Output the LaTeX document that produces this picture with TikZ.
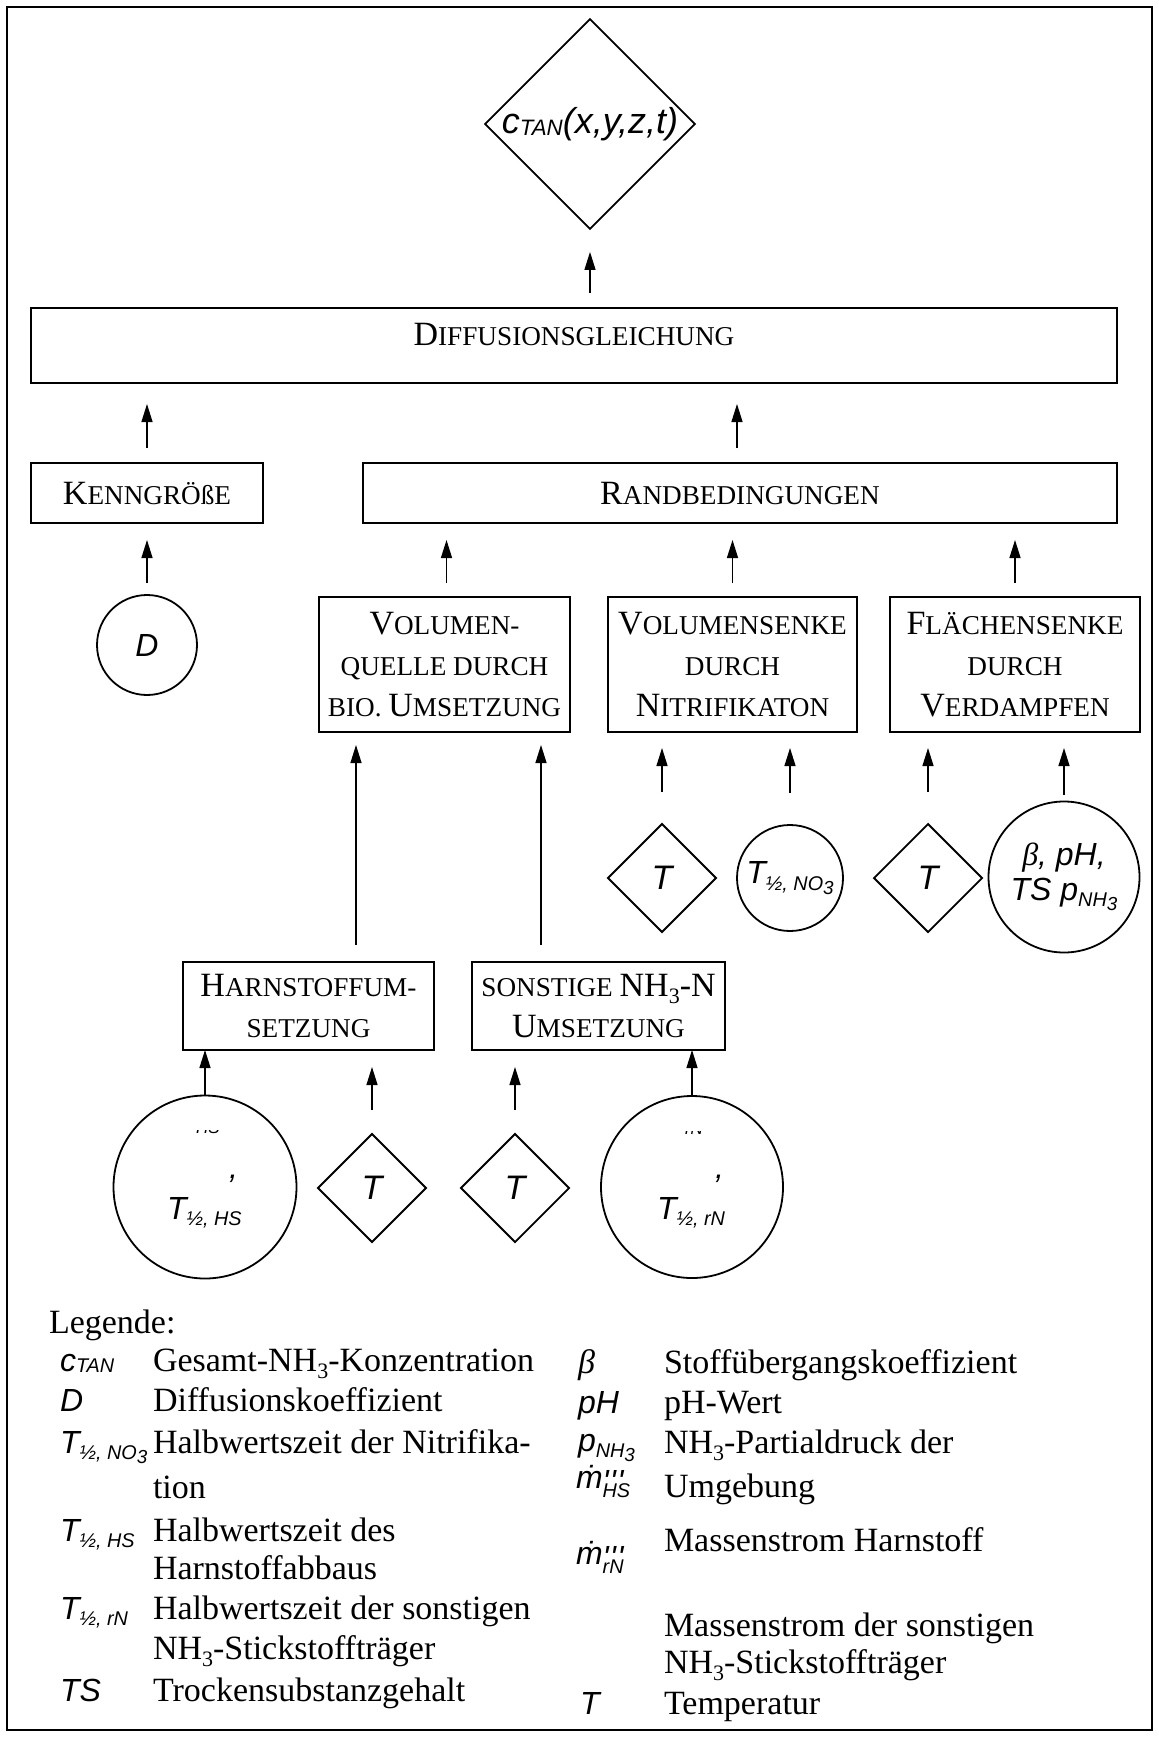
\documentclass[tikz,border=0pt]{standalone}
\usepackage{fontspec}
\usepackage{graphicx}
\setmainfont{Liberation Serif}
\newfontfamily\symfont{Liberation Sans}[Ligatures=TeXOff]
\usetikzlibrary{shapes.geometric,arrows.meta,calc}

% small capitals built from a reduced upper-case size
\newcommand\smc[1]{{\fontsize{13.6}{16}\selectfont #1}}
% lowered, reduced index
\newcommand\lowr[2][0.62]{\raisebox{-0.2em}{\scalebox{#1}{#2}}}
% index in serif running text
\newcommand\tsub[1]{\raisebox{-0.22em}{\fontsize{11}{11}\selectfont #1}}
% italic sans for symbols
\newcommand\sy{\symfont\itshape}
% mass flow symbol with triple prime and index
\newcommand\mflow[1]{ṁ\rlap{\raisebox{-2.4pt}{'\kern0.6pt'\kern0.6pt'}}\raisebox{-0.3em}{\scalebox{0.62}{#1}}}

\begin{document}
\begin{tikzpicture}[x=0.5pt,y=-0.5pt,
  every node/.style={inner sep=0pt, outer sep=0pt},
  box/.style={draw, line width=0.9pt, rectangle, align=center,
    font=\fontsize{17}{20.5}\selectfont},
  circ/.style={draw, line width=0.9pt, circle, align=center},
  dia/.style={draw, line width=0.9pt, diamond, aspect=1},
  arr/.style={line width=0.65pt, -{Triangle[length=9pt,width=5.5pt]}},
  symb/.style={font=\fontsize{16}{19}\selectfont\sy},
  lsym/.style={font=\fontsize{16}{19}\selectfont\sy, anchor=base west},
  ltxt/.style={font=\fontsize{17}{21}\selectfont, anchor=base west},
]
\useasboundingbox (0,0) rectangle (1159,1738);
\draw[line width=0.9pt] (7,7) rectangle (1152,1730);

% ---------- result ----------
\node[dia, minimum width=103pt, minimum height=102pt] (ctan) at (590,124)
  {\fontsize{18}{20}\selectfont\sy c\raisebox{-0.05em}{\scalebox{0.62}{TAN}}(x,y,z,t)};

% ---------- equation and its inputs ----------
\node[box, minimum width=543pt, minimum height=37.5pt] (diff) at (574,345.5) {};
\node[font=\fontsize{17}{20}\selectfont] (difft) at (574,335)
  {D\smc{IFFUSIONSGLEICHUNG}};

\node[box, minimum width=116pt, minimum height=30pt] (kenn) at (147,493) {K\smc{ENNGRÖßE}};
\node[box, minimum width=377pt, minimum height=30pt] (rand) at (740,493) {R\smc{ANDBEDINGUNGEN}};

\node[circ, minimum size=50pt, symb] (D) at (147,645) {D};

\node[box, minimum width=125.5pt, minimum height=67.5pt] (vq) at (444.5,664.5)
  {V\smc{OLUMEN-}\\\smc{QUELLE DURCH}\\\smc{BIO. }U\smc{MSETZUNG}};
\node[box, minimum width=124.5pt, minimum height=67.5pt] (vs) at (732.5,664.5)
  {V\smc{OLUMENSENKE}\\\smc{DURCH}\\N\smc{ITRIFIKATON}};
\node[box, minimum width=125pt, minimum height=67.5pt] (fs) at (1015,664.5)
  {F\smc{LÄCHENSENKE}\\\smc{DURCH}\\V\smc{ERDAMPFEN}};

% ---------- sink parameters ----------
\node[dia, minimum width=54pt, minimum height=54pt, font=\fontsize{17}{19}\selectfont\sy] (T1) at (662,878) {T};
\node[circ, minimum size=53pt, symb] (tno) at (790,878) {T\lowr{½, NO\lowr[0.95]{3}}};
\node[dia, minimum width=54pt, minimum height=54pt, font=\fontsize{17}{19}\selectfont\sy] (T2) at (928,878) {T};
\node[circ, minimum size=75.5pt, font=\fontsize{16}{17.5}\selectfont] (bp) at (1064,877)
  {{\itshape β}{\sy, pH,}\\{\sy TS p\lowr{NH\lowr[0.95]{3}}}};

% ---------- conversion boxes ----------
\node[box, minimum width=125.5pt, minimum height=44pt] (hs) at (308.5,1006)
  {H\smc{ARNSTOFFUM-}\\\smc{SETZUNG}};
\node[box, minimum width=126.5pt, minimum height=44pt] (rn) at (598.5,1006)
  {\smc{SONSTIGE }NH\tsub{3}-N\\U\smc{MSETZUNG}};

% ---------- source parameters ----------
\node[circ, minimum size=91.5pt] (chs) at (205,1187) {};
\node[dia, minimum width=54pt, minimum height=54pt, font=\fontsize{17}{19}\selectfont\sy] (T3) at (372,1188) {T};
\node[dia, minimum width=54pt, minimum height=54pt, font=\fontsize{17}{19}\selectfont\sy] (T4) at (515,1188) {T};
\node[circ, minimum size=91pt] (crn) at (692,1187) {};

\begin{scope}
  \clip (185,1130) rectangle (230,1135);
  \node[anchor=base west, font=\fontsize{8.5}{9}\selectfont\sy] (hsfrag) at (196,1133.5) {HS};
\end{scope}
\begin{scope}
  \clip (675,1131.5) rectangle (715,1136);
  \node[anchor=base west, font=\fontsize{8.5}{9}\selectfont\sy] (rnfrag) at (685,1134.5) {rN};
\end{scope}
\node[anchor=base west, symb] (hscomma) at (229,1178) {,};
\node[anchor=base west, symb] (hst) at (167,1219) {T\lowr{½, HS}};
\node[anchor=base west, symb] (rncomma) at (715,1178) {,};
\node[anchor=base west, symb] (rnt) at (657,1219) {T\lowr{½, rN}};

% ---------- connectors ----------
\draw[arr] ($(ctan.south |- diff.north)+(0,-15)$) -- ($(ctan.south)+(0,23)$);
\draw[arr] ($(kenn.north)+(0,-15)$) -- ($(kenn.north |- diff.south)+(0,21)$);
\draw[arr] ($(rand.north)+(-3,-15)$) -- ($(rand.north |- diff.south)+(-3,21)$);

\draw[arr] ($(D.north)+(0,-12)$) -- ($(kenn.south)+(0,17)$);
\draw[arr] ($(vq.north)+(2,-14)$) -- ($(vq.north |- rand.south)+(2,17)$);
\draw[arr] ($(vs.north)+(0,-14)$) -- ($(vs.north |- rand.south)+(0,17)$);
\draw[arr] ($(fs.north)+(0,-14)$) -- ($(fs.north |- rand.south)+(0,17)$);

\draw[arr] ($(T1.north)+(0,-32)$) -- ($(T1.north |- vs.south)+(0,16)$);
\draw[arr] ($(tno.north)+(0,-32)$) -- ($(tno.north |- vs.south)+(0,16)$);
\draw[arr] ($(T2.north)+(0,-32)$) -- ($(T2.north |- fs.south)+(0,16)$);
\draw[arr] ($(bp.north)+(0,-7)$) -- ($(bp.north |- fs.south)+(0,16)$);

\coordinate (hsup) at ($(hs.north)+(47.5,-17)$);
\coordinate (rnup) at ($(rn.north)+(-57.5,-17)$);
\draw[arr] (hsup) -- ($(hsup |- vq.south)+(0,13)$);
\draw[arr] (rnup) -- ($(rnup |- vq.south)+(0,13)$);

\draw[arr] (chs.north) -- (chs.north |- hs.south);
\draw[arr] ($(T3.north)+(0,-24)$) -- ($(T3.north |- hs.south)+(0,17)$);
\draw[arr] ($(T4.north)+(0,-24)$) -- ($(T4.north |- rn.south)+(0,17)$);
\draw[arr] (crn.north) -- (crn.north |- rn.south);

% ---------- legend ----------
\node[ltxt] (leg) at (49,1333) {Legende:};

\node[lsym] (l1s) at (60,1371) {c\raisebox{-0.05em}{\scalebox{0.62}{TAN}}};
\node[ltxt] (l1t) at (153,1371) {Gesamt-NH\tsub{3}-Konzentration};
\node[lsym] (l2s) at (60,1411) {D};
\node[ltxt] (l2t) at (153,1411) {Diffusionskoeffizient};
\node[lsym] (l3s) at (60,1453) {T\lowr{½, NO\lowr[0.95]{3}}};
\node[ltxt] (l3t) at (153,1453) {Halbwertszeit der Nitrifika-};
\node[ltxt] (l3u) at (153,1498) {tion};
\node[lsym] (l4s) at (60,1541) {T\lowr{½, HS}};
\node[ltxt] (l4t) at (153,1541) {Halbwertszeit des};
\node[ltxt] (l4u) at (153,1579) {Harnstoffabbaus};
\node[lsym] (l5s) at (60,1619) {T\lowr{½, rN}};
\node[ltxt] (l5t) at (153,1619) {Halbwertszeit der sonstigen};
\node[ltxt] (l5u) at (153,1659) {NH\tsub{3}-Stickstoffträger};
\node[lsym] (l6s) at (60,1701) {TS};
\node[ltxt] (l6t) at (153,1701) {Trockensubstanzgehalt};

\node[ltxt] (r1s) at (578,1373) {\itshape β};
\node[ltxt] (r1t) at (664,1373) {Stoffübergangskoeffizient};
\node[lsym] (r2s) at (578,1413) {pH};
\node[ltxt] (r2t) at (664,1413) {pH-Wert};
\node[lsym] (r3s) at (578,1451) {p\lowr{NH\lowr[0.95]{3}}};
\node[ltxt] (r3t) at (664,1453) {NH\tsub{3}-Partialdruck der};
\node[lsym] (r4s) at (576,1488) {\mflow{HS}};
\node[ltxt] (r4t) at (664,1497) {Umgebung};
\node[ltxt] (r5t) at (664,1551) {Massenstrom Harnstoff};
\node[lsym] (r5s) at (576,1564) {\mflow{rN}};
\node[ltxt] (r6t) at (664,1636) {Massenstrom der sonstigen};
\node[ltxt] (r6u) at (664,1673) {NH\tsub{3}-Stickstoffträger};
\node[lsym] (r7s) at (580,1714) {T};
\node[ltxt] (r7t) at (664,1714) {Temperatur};
\end{tikzpicture}
\end{document}
